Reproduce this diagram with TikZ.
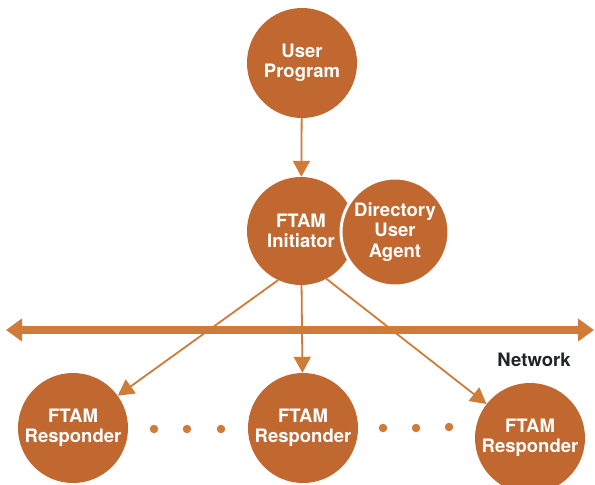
\documentclass[tikz,border=0pt]{standalone}
\usepackage{fontspec}
\setmainfont{TeX Gyre Heros}
\usetikzlibrary{arrows.meta}
\definecolor{rust}{RGB}{192,104,48}
\definecolor{rustline}{RGB}{207,123,58}
\definecolor{labelink}{RGB}{30,36,40}
\begin{document}
\begin{tikzpicture}[x=1pt,y=-1pt,
  unit/.style={circle, fill=rust, minimum size=110pt, inner sep=0pt,
    text=white, align=center, font=\fontsize{18.5}{20.5}\selectfont\bfseries},
  link/.style={draw=rustline, line width=1.8pt,
    -{Triangle[length=16pt,width=17pt]}},
  bus/.style={draw=rustline, line width=8pt,
    {Triangle[length=16pt,width=22pt]}-{Triangle[length=16pt,width=22pt]}},
  dot/.style={circle, fill=rustline, minimum size=8.5pt, inner sep=0pt}]
\useasboundingbox (0,0) rectangle (595,485);
\fill[white] (0,0) rectangle (595,485);

% processes
\node[unit] (user) at (302,63) {User\\Program};
\node[unit, minimum size=108pt] (init) at (301,231) {FTAM\\Initiator};
\node[unit, draw=white, line width=3pt, minimum size=108pt] (dua) at (395,232) {Directory\\User\\Agent};
\node[unit] (r1) at (73,428) {FTAM\\Responder};
\node[unit] (r2) at (303,428) {FTAM\\Responder};
\node[unit] (r3) at (530,438) {FTAM\\Responder};

% ellipses between responders
\node[dot] (d1) at (154,429) {};
\node[dot] (d2) at (187,429) {};
\node[dot] (d3) at (221,429) {};
\node[dot] (d4) at (383,428) {};
\node[dot] (d5) at (416,428) {};
\node[dot] (d6) at (449,427) {};

% network bus
\coordinate (netL) at (6,330);
\coordinate (netR) at (594,330);
\draw[bus] (netL) -- (netR);
\node[text=labelink, font=\fontsize{18.5}{20}\selectfont\bfseries] (netlabel) at (534,360) {Network};

% connections
\draw[link] (user) -- (init);
\draw[link] (init.245) -- (r1);
\draw[link] (init) -- (r2);
\draw[link] (init.298) -- (r3);
\end{tikzpicture}
\end{document}
